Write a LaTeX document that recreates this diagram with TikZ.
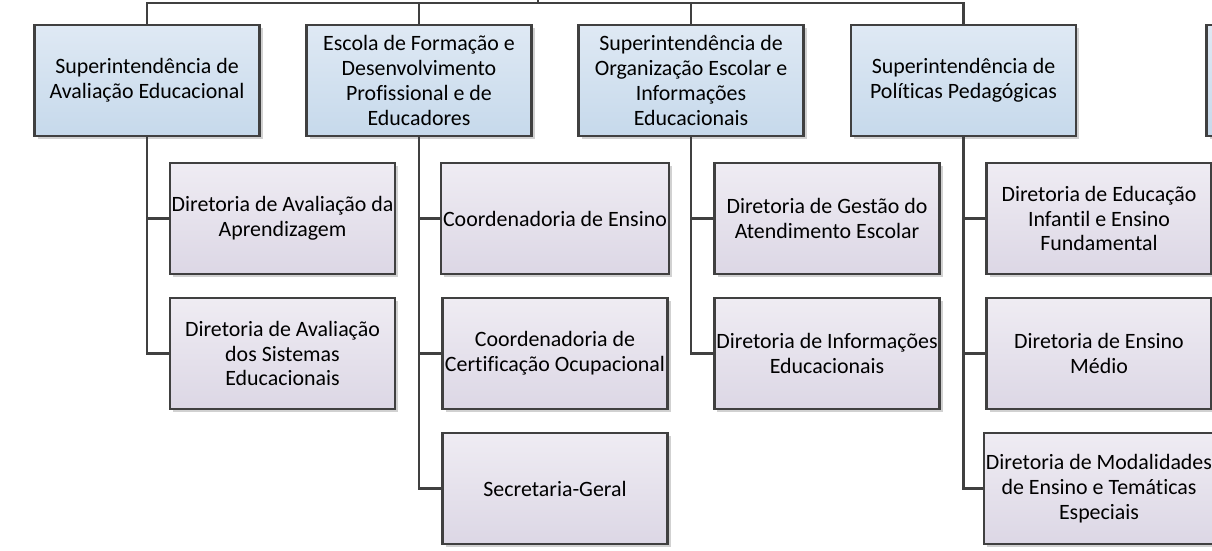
\documentclass[tikz,border=0pt]{standalone}
\usepackage{fontspec}
\setmainfont{Carlito}[Ligatures=NoCommon]
\usetikzlibrary{shadows}
\definecolor{linecol}{HTML}{404040}
\definecolor{topA}{HTML}{DFE9F4}
\definecolor{topB}{HTML}{C6D9EB}
\definecolor{subA}{HTML}{EFECF3}
\definecolor{subB}{HTML}{DCD7E5}
\tikzset{
  basebox/.style={draw=linecol, line width=2.3pt, rectangle, minimum width=225pt, minimum height=111pt,
    align=center, inner sep=2pt, font=\fontsize{21.9}{24.8}\selectfont, text=black,
    drop shadow={shadow xshift=3pt, shadow yshift=-3pt, fill=black, opacity=0.18}},
  topbox/.style={basebox, shading=axis, top color=topA, bottom color=topB},
  subbox/.style={basebox, shading=axis, top color=subA, bottom color=subB},
  conn/.style={draw=linecol, line width=2.3pt}
}
\begin{document}
\begin{tikzpicture}[x=1pt,y=-1pt]
\useasboundingbox (0,0) rectangle (1212,551);
\clip (0,0) rectangle (1212,551);
\fill[white] (0,0) rectangle (1212,551);

% top level boxes
\node[topbox] (t1) at (147,80.5) {Superintendência de\\Avaliação Educacional};
\node[topbox] (t2) at (419,80.5) {Escola de Formação e\\Desenvolvimento\\Profissional e de\\Educadores};
\node[topbox] (t3) at (691,80.5) {Superintendência de\\Organização Escolar e\\Informações\\Educacionais};
\node[topbox] (t4) at (963.5,80.5) {Superintendência de\\Políticas Pedagógicas};
\node[topbox] (t5) at (1319,80.5) {};

% children
\node[subbox] (c1a) at (282.5,218.5) {Diretoria de Avaliação da\\Aprendizagem};
\node[subbox] (c1b) at (282.5,353.5) {Diretoria de Avaliação\\dos Sistemas\\Educacionais};

\node[subbox] (c2a) at (555,218.5) {Coordenadoria de Ensino};
\node[subbox] (c2b) at (555,353.5) {Coordenadoria de\\Certificação Ocupacional};
\node[subbox] (c2c) at (555,488.5) {Secretaria-Geral};

\node[subbox] (c3a) at (827,218.5) {Diretoria de Gestão do\\Atendimento Escolar};
\node[subbox] (c3b) at (827,353.5) {Diretoria de Informações\\Educacionais};

\node[subbox] (c4a) at (1099,218.5) {Diretoria de Educação\\Infantil e Ensino\\Fundamental};
\node[subbox] (c4b) at (1099,353.5) {Diretoria de Ensino\\Médio};
\node[subbox] (c4c) at (1099,488.5) {Diretoria de Modalidades\\de Ensino e Temáticas\\Especiais};

% top bar
\coordinate (bar) at (538,3);
\coordinate (up) at (538,-3);
\draw[conn] (t1.north) |- (bar);
\draw[conn] (t4.north) |- (bar);
\draw[conn] (t2.north) -- (t2.north |- bar);
\draw[conn] (t3.north) -- (t3.north |- bar);
\draw[conn] (bar) -- (up);

% child connectors
\draw[conn] (t1.south) |- (c1b.west);
\draw[conn] (c1a.west) -| (t1.south);

\draw[conn] (t2.south) |- (c2c.west);
\draw[conn] (c2a.west) -| (t2.south);
\draw[conn] (c2b.west) -| (t2.south);

\draw[conn] (t3.south) |- (c3b.west);
\draw[conn] (c3a.west) -| (t3.south);

\draw[conn] (t4.south) |- (c4c.west);
\draw[conn] (c4a.west) -| (t4.south);
\draw[conn] (c4b.west) -| (t4.south);
\end{tikzpicture}
\end{document}
